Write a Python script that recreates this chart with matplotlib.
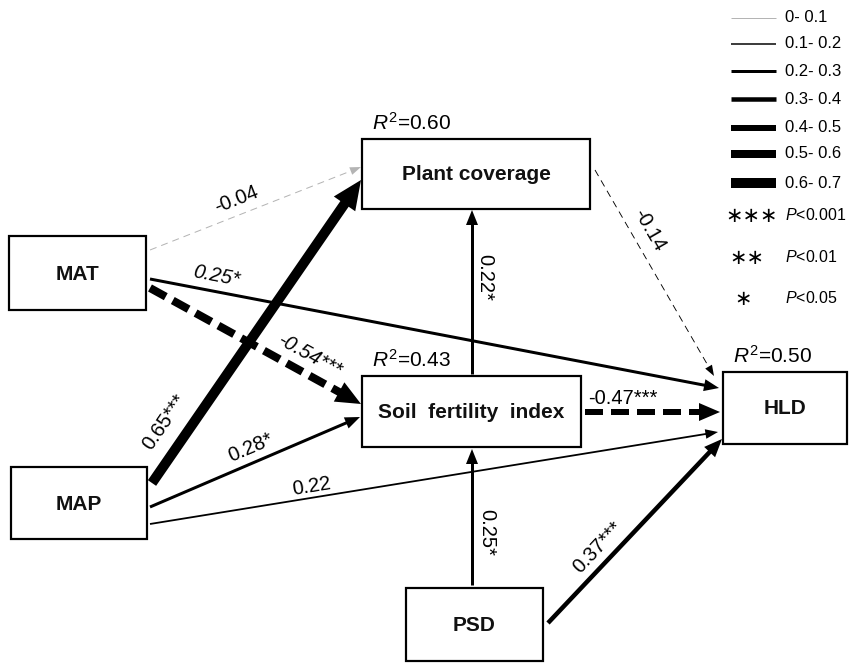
import numpy as np
import matplotlib.pyplot as plt
from matplotlib.patches import Rectangle

plt.rcParams['font.family'] = ['Liberation Sans', 'DejaVu Sans']
plt.rcParams['mathtext.fontset'] = 'custom'
plt.rcParams['mathtext.rm'] = 'Liberation Sans'
plt.rcParams['mathtext.it'] = 'Liberation Sans:italic'
plt.rcParams['mathtext.bf'] = 'Liberation Sans:bold'
plt.rcParams['lines.scale_dashes'] = False

# ---- data ----
nodes = ['MAT', 'MAP', 'Plant coverage', 'Soil fertility index', 'HLD', 'PSD']
node_text = ['MAT', 'MAP', 'Plant coverage', 'Soil  fertility  index', 'HLD', 'PSD']
r2_nodes = ['Plant coverage', 'Soil fertility index', 'HLD']
r2_values = [0.60, 0.43, 0.50]

sources = ['MAT', 'MAP', 'MAT', 'MAT', 'MAP', 'MAP',
           'Plant coverage', 'Soil fertility index', 'Soil fertility index', 'PSD', 'PSD']
targets = ['Plant coverage', 'Plant coverage', 'Soil fertility index', 'HLD',
           'Soil fertility index', 'HLD', 'HLD', 'Plant coverage', 'HLD',
           'Soil fertility index', 'HLD']
coefs = [-0.04, 0.65, -0.54, 0.25, 0.28, 0.22, -0.14, 0.22, -0.47, 0.25, 0.37]
stars = ['', '***', '***', '*', '*', '', '', '*', '***', '*', '***']

legend_bins = ['0- 0.1', '0.1- 0.2', '0.2- 0.3', '0.3- 0.4', '0.4- 0.5', '0.5- 0.6', '0.6- 0.7']
sig_marks = ['\u2217\u2217\u2217', '\u2217\u2217', '\u2217']
sig_levels = ['0.001', '0.01', '0.05']

# ---- layout (pixel coords, y down) ----
boxes = {
    'MAT': (9, 236, 146, 310),
    'MAP': (11, 467, 147, 539),
    'Plant coverage': (362, 139, 590, 209),
    'Soil fertility index': (362, 376, 581, 447),
    'HLD': (723, 372, 847, 444),
    'PSD': (406, 588, 543, 661),
}
edge_pts = [
    ((150, 250), (361, 167)),
    ((152, 483), (361, 180)),
    ((150, 288), (361, 404)),
    ((150, 279), (719, 388)),
    ((150, 507), (360, 417)),
    ((150, 524), (718, 432)),
    ((595, 170), (714, 376)),
    ((472, 374), (472, 210)),
    ((585, 412), (720, 412)),
    ((472, 585), (472, 449)),
    ((548, 623), (722, 439)),
]
label_pos = [(236, 200), (165, 422), (310, 356), (216, 276), (251, 448), (312, 486),
             (649, 230), (485, 277), (623, 398), (487, 532), (598, 547)]
label_italic = [False, False, True, True, False, False, False, False, False, False, False]
bin_widths = [1.0, 1.5, 3.0, 4.5, 6.0, 8.0, 10.0]   # px

fig = plt.figure(figsize=(8.5, 6.63), dpi=100)
ax = fig.add_axes([0, 0, 1, 1])
ax.set_xlim(0, 850)
ax.set_ylim(663, 0)
ax.axis('off')

PX = 0.72  # points per pixel at 100 dpi


def draw_arrow(p0, p1, w, color, dashed):
    p0 = np.array(p0, float)
    p1 = np.array(p1, float)
    u = (p1 - p0) / np.linalg.norm(p1 - p0)
    n = np.array([-u[1], u[0]])
    hl = 9 + 2.0 * w
    hw = 6 + 2.0 * w
    base = p1 - u * hl
    end = base + u * (1 if dashed else hl * 0.4)
    kw = dict(color=color, lw=w * PX, solid_capstyle='butt', dash_capstyle='butt')
    if dashed:
        d = (18, 8) if w >= 4 else (7, 5)
        kw['dashes'] = (d[0] * PX, d[1] * PX)
    ax.plot([p0[0], end[0]], [p0[1], end[1]], **kw)
    tri = np.array([p1, base + n * hw / 2, base - n * hw / 2])
    ax.fill(tri[:, 0], tri[:, 1], color=color, lw=0)


# boxes
for name, txt in zip(nodes, node_text):
    x0, y0, x1, y1 = boxes[name]
    ax.add_patch(Rectangle((x0, y0), x1 - x0, y1 - y0, fill=False, ec='black', lw=2.2 * PX))
    ax.text((x0 + x1) / 2, (y0 + y1) / 2 + 1, txt, ha='center', va='center',
            fontsize=15, fontweight='bold', color='#111111')

for name, v in zip(r2_nodes, r2_values):
    x0, y0, x1, y1 = boxes[name]
    ax.text(x0 + 10, y0 - 5, r'$\mathit{R}^{\mathrm{2}}$=%.2f' % v, ha='left', va='bottom', fontsize=15)

# edges
for i in range(len(coefs)):
    v = coefs[i]
    k = min(int(abs(v) * 10), 6)
    w = bin_widths[k]
    if stars[i] == '' and k > 0:
        w = w * 0.6
    color = '#b4b4b4' if k == 0 else 'black'
    p0, p1 = edge_pts[i]
    draw_arrow(p0, p1, w, color, v < 0)
    ang = np.degrees(np.arctan2(-(p1[1] - p0[1]), p1[0] - p0[0]))
    if ang > 80:
        ang -= 180
    lx, ly = label_pos[i]
    ax.text(lx, ly, ('%.2f' % v) + stars[i], ha='center', va='center', rotation=ang,
            rotation_mode='anchor', fontsize=14.5,
            style='italic' if label_italic[i] else 'normal')

# legend
rows = [18, 44, 71, 99, 128, 154, 183]
for j, lab in enumerate(legend_bins):
    ax.plot([731, 776], [rows[j], rows[j]], color='#b4b4b4' if j == 0 else 'black',
            lw=bin_widths[j] * PX, solid_capstyle='butt')
    ax.text(785, rows[j], lab, ha='left', va='center', fontsize=12)

sig_rows = [215, 257, 298]
sig_x = [752, 747, 743]
for j in range(3):
    ax.text(sig_x[j], sig_rows[j] + 1, sig_marks[j], ha='center', va='center', fontsize=15,
            family='DejaVu Sans')
    ax.text(785, sig_rows[j], r'$\mathit{P}$<' + sig_levels[j], ha='left', va='center', fontsize=11.5)

fig.savefig('out.png', dpi=100)
